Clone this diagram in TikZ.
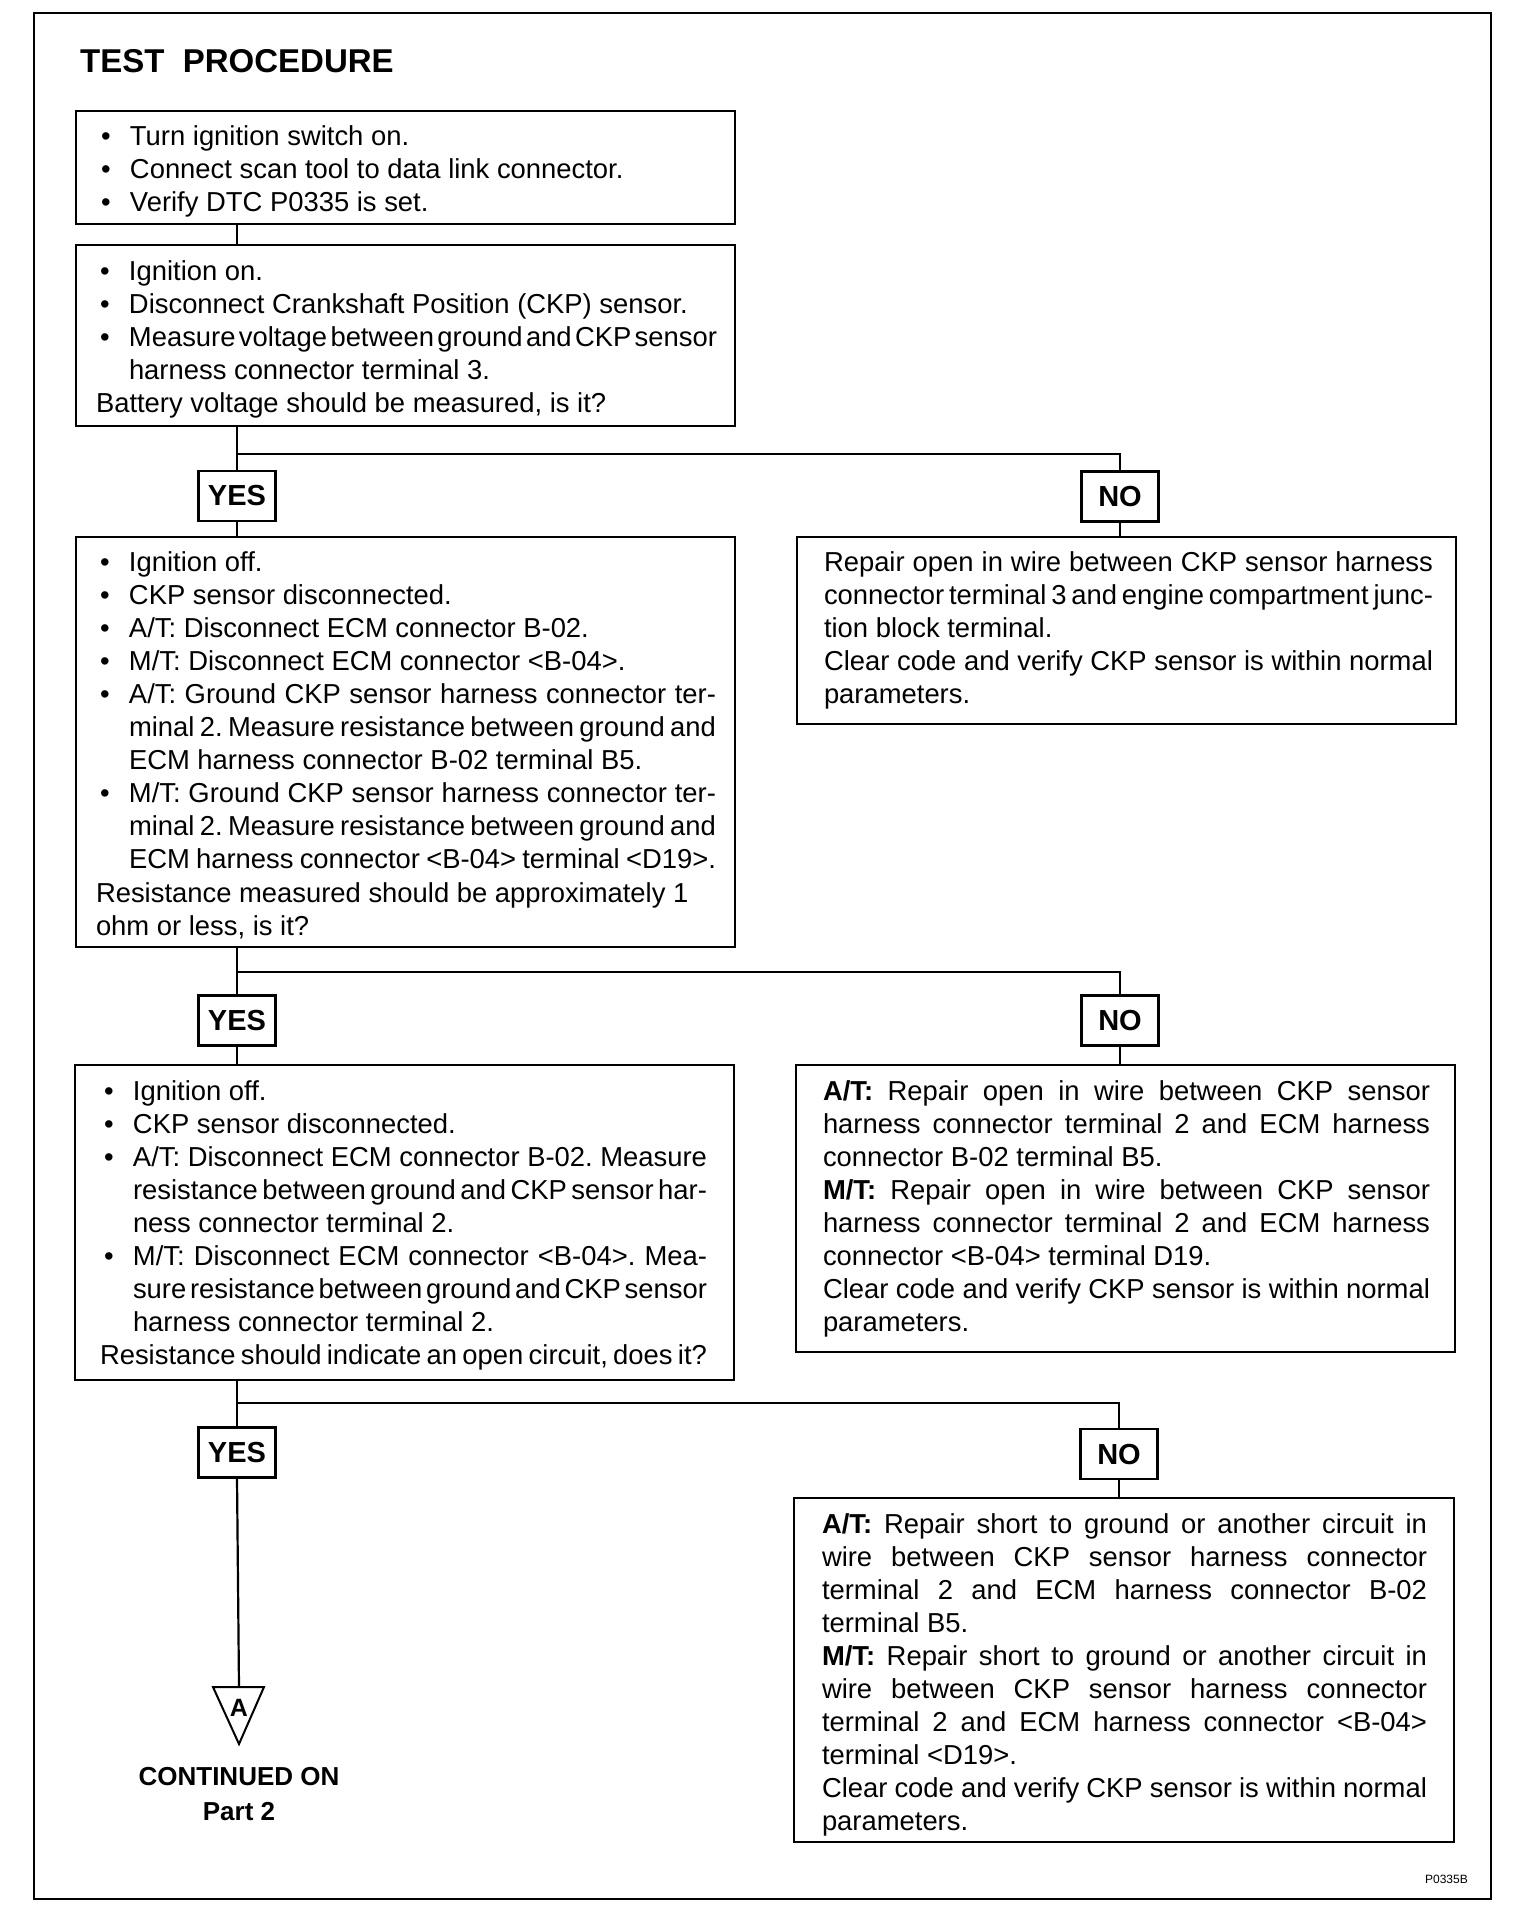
\documentclass[tikz,border=0pt]{standalone}
\usepackage{fontspec}
\setmainfont{Liberation Sans}[WordSpace={1,1.5,2.5}]
\usetikzlibrary{calc}
\frenchspacing
\newcommand\xst{\vrule height 24pt depth 9pt width 0pt}
\newcommand\xBN[1]{\hbox{\xst\makebox[33pt][l]{\hskip4pt •}#1}}
\newcommand\xBJ[1]{\hbox to \hsize{\xst\makebox[33pt][l]{\hskip4pt •}#1}}
\newcommand\xIJ[1]{\hbox to \hsize{\xst\hskip33pt #1}}
\newcommand\xIN[1]{\hbox{\xst\hskip33pt #1}}
\newcommand\xPJ[1]{\hbox to \hsize{\xst #1}}
\newcommand\xPN[1]{\hbox{\xst #1}}
\newcommand\xtb[2]{\vbox{\frenchspacing\hsize=#1\relax\baselineskip=33.1pt\lineskiplimit=-100pt\lineskip=0pt #2}}
\tikzset{
  box/.style={draw, line width=2.2pt, inner sep=0pt, outer sep=0pt, anchor=north west},
  txt/.style={inner sep=0pt, outer sep=0pt, anchor=north west, font=\fontsize{27.4}{33.1}\selectfont},
  yn/.style={draw, line width=2.2pt, minimum width=77pt, minimum height=50pt, inner sep=0pt, outer sep=0pt, font=\fontsize{29}{30}\selectfont\bfseries},
  ln/.style={line width=2.2pt}
}
\begin{document}
\begin{tikzpicture}[x=1pt,y=-1pt]
\useasboundingbox (0,0) rectangle (1536,1928);
% frame
\node[box, line width=2.6pt, minimum width=1457pt, minimum height=1886pt] (frame) at (34,13) {};
\node[anchor=base west, inner sep=0pt, font=\fontsize{33}{36}\selectfont\bfseries] (title) at (80,72) {TEST\ \ PROCEDURE};

% boxes
\node[box, minimum width=659pt, minimum height=113pt] (b1) at (76,111) {};
\node[box, minimum width=659pt, minimum height=181pt] (b2) at (76,245) {};
\node[box, minimum width=659pt, minimum height=410pt] (b3) at (76,537) {};
\node[box, minimum width=659pt, minimum height=315pt] (b4) at (75,1065) {};
\node[box, minimum width=659pt, minimum height=187pt] (r1) at (797,537) {};
\node[box, minimum width=659pt, minimum height=287pt] (r2) at (796,1065) {};
\node[box, minimum width=660pt, minimum height=344pt] (r3) at (794,1498) {};

% yes / no
\node[yn] (yes1) at (237,496) {YES};
\node[yn] (no1) at (1120,496.5) {NO};
\node[yn] (yes2) at (237,1020.5) {YES};
\node[yn] (no2) at (1120,1020.5) {NO};
\node[yn] (yes3) at (237,1452.5) {YES};
\node[yn] (no3) at (1119,1454) {NO};

\coordinate (br1) at (237,454);
\coordinate (br2) at (237,972);
\coordinate (br3) at (237,1403);
\coordinate (tri) at (239,1687);

% texts
\node[txt] (t1) at ($(b1.north west)+(21,10)$) {\xtb{620pt}{%
\xBN{Turn ignition switch on.}
\xBN{Connect scan tool to data link connector.}
\xBN{Verify DTC P0335 is set.}}};

\node[txt] (t2) at ($(b2.north west)+(20,11)$) {\xtb{621pt}{%
\xBN{Ignition on.}
\xBN{Disconnect Crankshaft Position (CKP) sensor.}
\xBJ{Measure voltage between ground and CKP sensor}
\xIN{harness connector terminal 3.}
\xPN{Battery voltage should be measured, is it?}}};

\node[txt] (t3) at ($(b3.north west)+(20,10)$) {\xtb{620pt}{%
\xBN{Ignition off.}
\xBN{CKP sensor disconnected.}
\xBN{A/T: Disconnect ECM connector B-02.}
\xBN{M/T: Disconnect ECM connector <B-04>.}
\xBJ{A/T: Ground CKP sensor harness connector ter-}
\xIJ{minal 2. Measure resistance between ground and}
\xIN{ECM harness connector B-02 terminal B5.}
\xBJ{M/T: Ground CKP sensor harness connector ter-}
\xIJ{minal 2. Measure resistance between ground and}
\xIJ{ECM harness connector <B-04> terminal <D19>.}
\xPN{Resistance measured should be approximately 1}
\xPN{ohm or less, is it?}}};

\node[txt] (t4) at ($(b4.north west)+(25,11)$) {\xtb{607pt}{%
\xBN{Ignition off.}
\xBN{CKP sensor disconnected.}
\xBJ{A/T: Disconnect ECM connector B-02. Measure}
\xIJ{resistance between ground and CKP sensor har-}
\xIN{ness connector terminal 2.}
\xBJ{M/T: Disconnect ECM connector <B-04>. Mea-}
\xIJ{sure resistance between ground and CKP sensor}
\xIN{harness connector terminal 2.}
\xPJ{Resistance should indicate an open circuit, does it?}}};

\node[txt] (tr1) at ($(r1.north west)+(27,10)$) {\xtb{609pt}{%
\xPJ{Repair open in wire between CKP sensor harness}
\xPJ{connector terminal 3 and engine compartment junc-}
\xPN{tion block terminal.}
\xPJ{Clear code and verify CKP sensor is within normal}
\xPN{parameters.}}};

\node[txt] (tr2) at ($(r2.north west)+(27,11)$) {\xtb{607pt}{%
\xPJ{\textbf{A/T:} Repair open in wire between CKP sensor}
\xPJ{harness connector terminal 2 and ECM harness}
\xPN{connector B-02 terminal B5.}
\xPJ{\textbf{M/T:} Repair open in wire between CKP sensor}
\xPJ{harness connector terminal 2 and ECM harness}
\xPN{connector <B-04> terminal D19.}
\xPJ{Clear code and verify CKP sensor is within normal}
\xPN{parameters.}}};

\node[txt] (tr3) at ($(r3.north west)+(28,11)$) {\xtb{605pt}{%
\xPJ{\textbf{A/T:} Repair short to ground or another circuit in}
\xPJ{wire between CKP sensor harness connector}
\xPJ{terminal 2 and ECM harness connector B-02}
\xPN{terminal B5.}
\xPJ{\textbf{M/T:} Repair short to ground or another circuit in}
\xPJ{wire between CKP sensor harness connector}
\xPJ{terminal 2 and ECM harness connector <B-04>}
\xPN{terminal <D19>.}
\xPJ{Clear code and verify CKP sensor is within normal}
\xPN{parameters.}}};

% connectors
\draw[ln] (yes1.north |- b1.south) -- (yes1.north |- b2.north);
\draw[ln] (yes1.north |- b2.south) -- (yes1.north);
\draw[ln] (br1) -- (no1.north |- br1) -- (no1.north);
\draw[ln] (yes1.south) -- (yes1.south |- b3.north);
\draw[ln] (no1.south) -- (no1.south |- r1.north);

\draw[ln] (yes2.north |- b3.south) -- (yes2.north);
\draw[ln] (br2) -- (no2.north |- br2) -- (no2.north);
\draw[ln] (yes2.south) -- (yes2.south |- b4.north);
\draw[ln] (no2.south) -- (no2.south |- r2.north);

\draw[ln] (yes3.north |- b4.south) -- (yes3.north);
\draw[ln] (br3) -- (no3.north |- br3) -- (no3.north);
\draw[ln] (no3.south) -- (no3.south |- r3.north);
\draw[ln] (yes3.south) -- (tri);

% continuation triangle
\draw[line width=2pt, line join=miter] (213,1687) -- (264,1687) -- (239,1744) -- cycle;
\node[inner sep=0pt, font=\fontsize{25}{26}\selectfont\bfseries] (lblA) at (239,1708) {A};
\node[inner sep=0pt, align=center, font=\fontsize{26}{35}\selectfont\bfseries] (cont) at (239,1794) {CONTINUED ON\\Part 2};
\node[anchor=base east, inner sep=0pt, font=\fontsize{12}{14}\selectfont] (code) at (1468,1883) {P0335B};
\end{tikzpicture}
\end{document}
